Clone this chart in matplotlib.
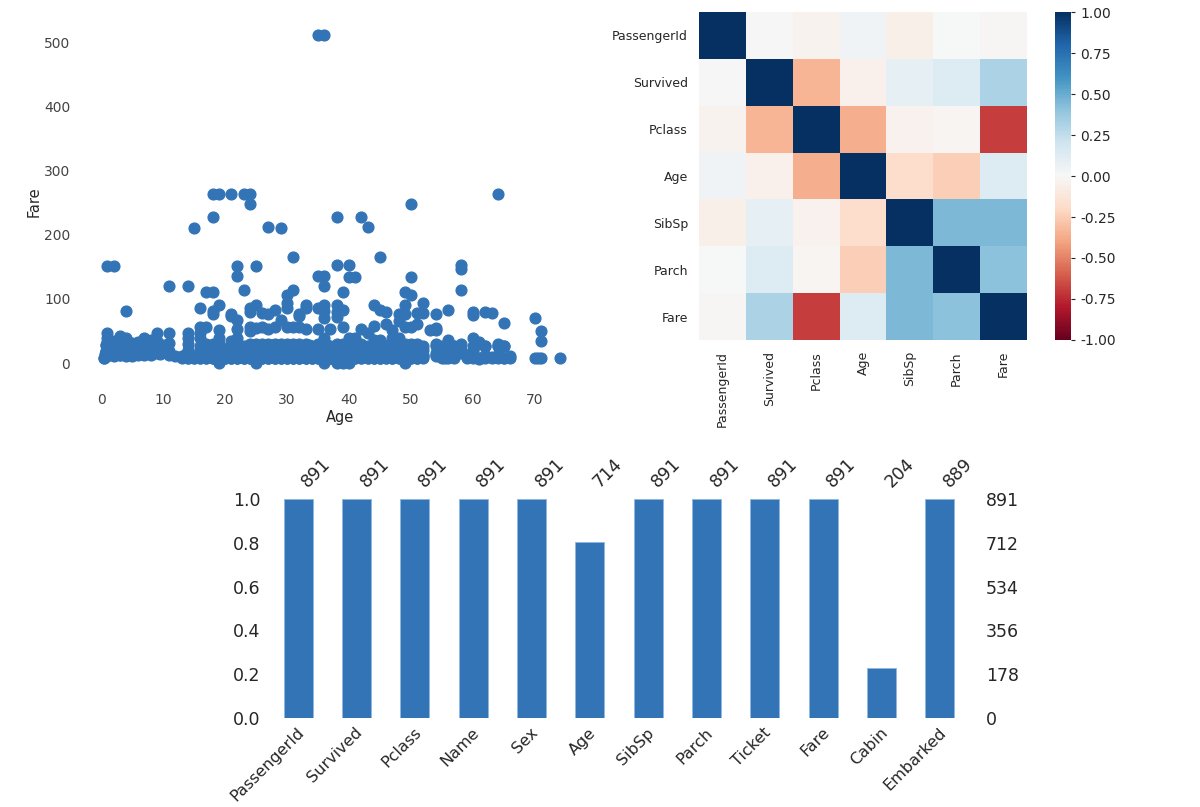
import matplotlib
matplotlib.use("Agg")
import matplotlib.pyplot as plt
import matplotlib.transforms as mtransforms
import numpy as np

# ---- scatter: Age vs Fare ----
sparse_points = [
    (35, 512.3), (36, 512.3),
    (18, 263), (19, 263), (21, 263), (23, 263), (24, 263), (64, 263),
    (24, 247.5), (50, 247.5),
    (18, 227.5), (38, 227.5), (42, 227.5),
    (15, 211.3), (27, 211.5), (29, 211.3), (43, 211.5),
    (31, 164.9), (45, 164.9),
    (1, 151.6), (2, 151.6), (22, 151.6), (25, 151.6), (38, 153.5), (40, 153.5), (58, 153.5), (58, 146.5),
    (22, 135.6), (35, 135.6), (36, 135.6), (40, 134.5), (41, 134.5), (50, 133.7),
    (11, 120), (14, 120), (36, 120),
    (23, 113.3), (31, 113.3), (58, 113.3),
    (17, 110.9), (18, 110.9), (39, 110.9), (49, 110.9),
    (30, 106.4), (50, 106.4),
    (19, 91), (25, 91), (30, 93.5), (33, 90), (36, 91), (38, 90), (44, 90), (49, 90), (52, 93.5),
    (16, 86.5), (24, 86.5), (30, 86.5), (33, 86.5), (35, 86.5), (45, 83.2),
    (4, 81.9), (18, 82), (28, 82.2), (36, 82), (39, 83.2), (56, 83.2),
    (21, 77.3), (26, 78.9), (27, 76.7), (32, 76.7), (38, 79.2), (46, 79.2), (48, 76.7),
    (51, 77.9), (52, 78.3), (54, 77.3), (60, 79.2), (62, 80), (63, 78),
    (18, 76.3), (24, 79.2), (32, 73.5), (49, 76.7), (21, 73.5), (70, 71),
    (36, 71), (38, 71.3), (60, 75.2), (22, 66.6), (29, 66.6), (48, 65),
    (46, 61.2), (51, 61.4), (65, 61.9),
    (16, 57), (17, 57), (24, 57), (25, 55.4), (26, 56.5), (28, 56.5), (30, 56.9), (31, 57),
    (32, 56.5), (44, 58), (49, 56.9), (50, 55.9),
    (19, 52), (22, 52.6), (24, 49.5), (27, 53.1), (33, 53.1), (35, 52.5), (37, 52.6), (39, 55.9),
    (42, 52.5), (47, 52), (53, 51.9), (54, 51.9), (43, 46.9), (71, 49.5), (54, 55.4),
    (1, 46.9), (9, 46.9), (11, 46.9), (14, 46.9), (16, 46.9),
    (4, 39.7), (7, 39.7), (14, 39.6), (16, 39.7), (19, 39.7), (22, 39.7), (36, 39.7), (40, 39.6),
    (41, 39.7), (47, 38.5), (60, 39.7), (48, 39.6),
    (2, 34.4), (3, 34.4), (6, 33), (8, 34.4), (21, 34.4), (71, 34.7), (56, 35.5), (61, 33.5),
    (44, 35.5), (45, 35.5),
    (1, 11.1), (1, 15.7), (1, 20.6), (1, 39), (1, 33), (2, 12.3), (2, 21), (2, 29), (2, 31.3),
    (2, 27.9), (3, 15.9), (3, 18.75), (3, 21.1), (3, 31.4), (3, 41.6), (4, 11.1), (4, 16.7),
    (4, 23), (4, 27.9), (4, 29.1), (4, 31.3), (5, 19.3), (5, 12.5), (5, 27.75), (5, 31.4),
    (6, 12.5), (6, 31.3), (6, 15.2), (7, 26.25), (7, 29.1), (8, 21.1), (8, 36.75), (8, 29.1),
    (8, 31.3), (9, 15.2), (9, 27.9), (9, 31.4), (9, 34.4), (10, 24.15), (10, 27.9), (11, 18.8),
    (11, 31.3), (0.42, 8.5), (0.67, 14.5), (0.75, 19.3), (0.83, 18.75), (0.83, 29),
    (19, 0), (25, 0), (36, 0), (38, 0), (39, 0), (40, 0), (49, 0),
    (55, 16), (57, 26), (62, 26.5), (64, 26), (65, 26.5), (55.5, 8), (66, 10.5), (63, 9.6), (61, 6.2),
]

band_fares = [7.25, 7.9, 8.05, 10.5, 12, 13, 15, 16, 18, 20, 23, 26, 27.7, 30]
band_ages = [
    [14, 15, 16, 17, 18, 19, 20, 21, 22, 23, 24, 25, 26, 27, 28, 29, 30, 31, 32, 33, 34, 35, 36,
     37, 38, 39, 40, 41, 42, 44, 45, 46, 47, 48, 49, 51, 61],
    [0.42, 13, 15, 17, 18, 19, 20, 21, 22, 23, 24, 25, 26, 27, 28, 29, 30, 31, 32, 33, 34, 35, 36,
     37, 38, 39, 40, 41, 42, 43, 44, 45, 46, 47, 48, 50, 51, 55, 56, 59, 62, 63, 65, 66, 70, 71, 74],
    [14, 16, 18, 19, 20, 21, 22, 23, 24, 25, 26, 27, 28, 29, 30, 31, 32, 33, 34, 35, 36, 37, 38,
     39, 40, 43, 44, 45, 47, 49, 50, 51, 52, 57, 60, 64, 65, 70.5],
    [2, 5, 12, 13, 15, 16, 17, 18, 19, 20, 21, 22, 23, 24, 25, 26, 27, 28, 29, 30, 31, 32, 33, 34,
     35, 36, 37, 38, 39, 40, 41, 42, 44, 45, 46, 47, 48, 50, 52, 54, 57, 60, 62],
    [3, 7, 13.5, 17.5, 20.5, 23.5, 26.5, 29.5, 32.5, 35.5, 38.5, 41.5, 44.5, 47.5, 50.5],
    [1, 3, 8, 11, 14, 16, 17, 18, 19, 20, 21, 22, 23, 24, 25, 26, 27, 28, 29, 30, 31, 32, 33, 34,
     35, 36, 37, 38, 39, 40, 41, 42, 43, 44, 45, 46, 47, 48, 50, 51, 52, 54, 55, 57, 59, 60, 62, 64],
    [0.92, 4.5, 9.5, 18.5, 21.5, 24.5, 27.5, 30.5, 33.5, 36.5, 39.5, 42.5, 45.5, 48.5],
    [1, 4, 7, 14, 16, 18, 19, 20, 21, 22, 23, 24, 25, 26, 27, 28, 29, 30, 31, 32, 34, 35, 36, 38,
     39, 40, 42, 43, 45, 47, 48, 49, 50, 54, 56, 58, 60],
    [2.5, 6.5, 17.5, 20.5, 23.5, 26.5, 29.5, 32.5, 35.5, 38.5, 41.5, 44.5, 47.5],
    [2, 5, 9, 14, 16, 18, 19, 21, 22, 23, 24, 25, 26, 27, 28, 29, 30, 31, 32, 33, 34, 35, 36, 37,
     38, 39, 40, 41, 42, 44, 45, 47, 48, 49, 52, 55, 57, 58, 60],
    [1.5, 5.5, 8.5, 19.5, 22.5, 25.5, 28.5, 31.5, 34.5, 37.5, 40.5, 43.5, 46.5],
    [1, 3, 6, 8, 16, 18, 19, 21, 22, 23, 24, 25, 27, 28, 29, 30, 31, 32, 33, 34, 35, 36, 37, 38,
     39, 40, 42, 43, 44, 45, 46, 47, 48, 50, 51, 52, 54, 55, 57, 60, 62, 64, 65],
    [0.83, 4.5, 21.5, 24.5, 27.5, 30.5, 33.5, 36.5, 39.5, 45.5],
    [2, 4, 7, 9, 14, 17, 18, 19, 22, 24, 25, 26, 27, 28, 29, 30, 31, 32, 33, 35, 36, 38, 39, 40,
     42, 44, 45, 47, 48, 49, 50, 51, 54, 56, 58, 61, 64],
]

age = [p[0] for p in sparse_points]
fare = [p[1] for p in sparse_points]
for f, ages in zip(band_fares, band_ages):
    age += ages
    fare += [f] * len(ages)

# ---- correlation heatmap ----
corr_cols = ["PassengerId", "Survived", "Pclass", "Age", "SibSp", "Parch", "Fare"]
corr = np.array([
    [1.00, -0.005, -0.035, 0.04, -0.06, 0.00, -0.01],
    [-0.005, 1.00, -0.34, -0.05, 0.09, 0.14, 0.32],
    [-0.035, -0.34, 1.00, -0.36, -0.04, -0.02, -0.69],
    [0.04, -0.05, -0.36, 1.00, -0.18, -0.25, 0.14],
    [-0.06, 0.09, -0.04, -0.18, 1.00, 0.45, 0.45],
    [0.00, 0.14, -0.02, -0.25, 0.45, 1.00, 0.41],
    [-0.01, 0.32, -0.69, 0.14, 0.45, 0.41, 1.00],
])

# ---- missing value bar ----
columns = ["PassengerId", "Survived", "Pclass", "Name", "Sex", "Age", "SibSp",
           "Parch", "Ticket", "Fare", "Cabin", "Embarked"]
counts = [891, 891, 891, 891, 891, 714, 891, 891, 891, 891, 204, 889]
n_rows = 891

blue = "#3274b5"
tick_col = "#444444"

fig = plt.figure(figsize=(12, 8.07), dpi=100)

# scatter
ax = fig.add_axes([0.0667, 0.5254, 0.4333, 0.4498])
ax.scatter(age, fare, s=60, color=blue, zorder=3)
ax.set_xlim(-3.4, 80.5)
ax.set_ylim(-31, 535)
ax.set_xticks([0, 10, 20, 30, 40, 50, 60, 70])
ax.set_yticks([0, 100, 200, 300, 400, 500])
ax.tick_params(length=0, labelsize=10, colors=tick_col, pad=7)
ax.set_xlabel("Age", fontsize=10.5, color="#262626", labelpad=2)
ax.set_ylabel("Fare", fontsize=10.5, color="#262626", labelpad=2)
for s in ax.spines.values():
    s.set_visible(False)

# heatmap
hx = fig.add_axes([0.5825, 0.5787, 0.2733, 0.4064])
mesh = hx.pcolormesh(corr, cmap="RdBu", vmin=-1, vmax=1)
hx.set_xlim(0, len(corr_cols))
hx.set_ylim(len(corr_cols), 0)
hx.set_xticks(np.arange(len(corr_cols)) + 0.5)
hx.set_yticks(np.arange(len(corr_cols)) + 0.5)
hx.set_xticklabels(corr_cols, rotation=90)
hx.set_yticklabels(corr_cols)
hx.tick_params(length=0, labelsize=9, colors="#262626", pad=8)
for s in hx.spines.values():
    s.set_visible(False)

cax = fig.add_axes([0.8792, 0.5787, 0.0133, 0.4064])
cb = fig.colorbar(mesh, cax=cax)
cb.set_ticks([1.0, 0.75, 0.5, 0.25, 0.0, -0.25, -0.5, -0.75, -1.0])
cb.ax.tick_params(labelsize=10, colors="#262626", length=3, width=0.8)
cb.ax.yaxis.set_major_formatter(matplotlib.ticker.FormatStrFormatter("%.2f"))
cb.outline.set_visible(False)

# missing value bar
bx = fig.add_axes([0.2242, 0.1103, 0.5833, 0.2714])
x = np.arange(len(columns))
frac = [c / n_rows for c in counts]
bx.bar(x, frac, width=0.5, color=blue, edgecolor="#8fb8e0", linewidth=0.6)
bx.set_xlim(-0.5, len(columns) - 0.5)
bx.set_ylim(0, 1)
bx.set_yticks([0, 0.2, 0.4, 0.6, 0.8, 1.0])
bx.set_yticklabels(["0.0", "0.2", "0.4", "0.6", "0.8", "1.0"])
bx.set_xticks(x)
bx.set_xticklabels(columns, rotation=45, ha="right")
bx.tick_params(length=0, labelsize=12.5, colors="#262626", pad=6)
bx.tick_params(axis="x", labelsize=11.5, pad=5)
shift = mtransforms.ScaledTranslation(9 / 100, 0, fig.dpi_scale_trans)
for lab in bx.get_xticklabels():
    lab.set_transform(lab.get_transform() + shift)

bx2 = bx.twinx()
bx2.set_ylim(0, 1)
bx2.set_yticks([0, 0.2, 0.4, 0.6, 0.8, 1.0])
bx2.set_yticklabels([int(n_rows * t) for t in [0, 0.2, 0.4, 0.6, 0.8, 1.0]])
bx2.tick_params(length=0, labelsize=12.5, colors="#262626", pad=12)

bx3 = bx.twiny()
bx3.set_xlim(bx.get_xlim())
bx3.set_xticks(x)
bx3.set_xticklabels(counts, rotation=45, ha="left")
bx3.tick_params(length=0, labelsize=12.5, colors="#262626", pad=6)

for a in (bx, bx2, bx3):
    for s in a.spines.values():
        s.set_visible(False)

fig.savefig("out.png", dpi=100)
